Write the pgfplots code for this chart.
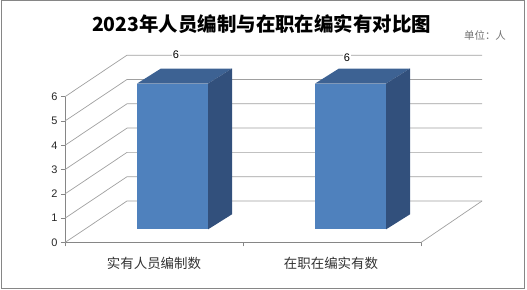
\documentclass[border=0pt]{standalone}
\usepackage{pgfplots}
\pgfplotsset{compat=1.18}
\usepackage{fontspec}
\setmainfont{Liberation Sans}
\newfontfamily\cjk{Noto Sans CJK SC}
\definecolor{barfront}{HTML}{4F81BD}
\definecolor{bartop}{HTML}{3D6293}
\definecolor{barside}{HTML}{32507C}
\definecolor{axisgray}{HTML}{868686}
\definecolor{gridgray}{HTML}{A0A0A0}
\begin{document}
\begin{tikzpicture}
\begin{axis}[
  x=1bp, y=24.3bp,
  xmin=65, xmax=421, ymin=0, ymax=6,
  enlargelimits=false,
  clip=false,
  axis x line=bottom, axis y line=left,
  axis line style={-, draw=axisgray, line width=0.7bp},
  xtick={65,243,421}, xticklabels={},
  ytick={0,1,...,6},
  tick align=outside,
  major tick length=4bp,
  tick style={draw=axisgray, line width=0.7bp},
  /pgf/number format/assume math mode=true,
  yticklabel style={font=\fontsize{11}{12}\selectfont, text=black!85},
]
% bounding area of the whole picture
\addplot[draw=none] coordinates {(0,-1.914) (527,9.979)};
% border
\addplot[draw=axisgray, line width=0.8bp] coordinates {(1.5,9.955) (524.5,9.955) (524.5,-1.872) (1.5,-1.872)} -- cycle;
% back wall grid lines and side wall diagonals
\addplot[draw=gridgray, line width=0.7bp] coordinates {(65,0) (127,1.708) (482,1.708)};
\addplot[draw=gridgray, line width=0.7bp] coordinates {(65,1) (127,2.708) (482,2.708)};
\addplot[draw=gridgray, line width=0.7bp] coordinates {(65,2) (127,3.708) (482,3.708)};
\addplot[draw=gridgray, line width=0.7bp] coordinates {(65,3) (127,4.708) (482,4.708)};
\addplot[draw=gridgray, line width=0.7bp] coordinates {(65,4) (127,5.708) (482,5.708)};
\addplot[draw=gridgray, line width=0.7bp] coordinates {(65,5) (127,6.708) (482,6.708)};
\addplot[draw=gridgray, line width=0.7bp] coordinates {(65,6) (127,7.708) (482,7.708)};
% floor right edge
\addplot[draw=gridgray, line width=0.7bp] coordinates {(421,0) (482,1.708)};
% bar 1 (value 6)
\addplot[fill=barfront, draw=none] coordinates {(137,0.54) (208,0.54) (208,6.54) (137,6.54)} -- cycle;
\addplot[fill=bartop, draw=none] coordinates {(137,6.54) (208,6.54) (232,7.16) (161,7.16)} -- cycle;
\addplot[fill=barside, draw=none] coordinates {(208,0.54) (232,1.16) (232,7.16) (208,6.54)} -- cycle;
% bar 2 (value 6)
\addplot[fill=barfront, draw=none] coordinates {(315,0.54) (386,0.54) (386,6.54) (315,6.54)} -- cycle;
\addplot[fill=bartop, draw=none] coordinates {(315,6.54) (386,6.54) (410,7.16) (339,7.16)} -- cycle;
\addplot[fill=barside, draw=none] coordinates {(386,0.54) (410,1.16) (410,7.16) (386,6.54)} -- cycle;
% data labels
\node[font=\fontsize{11}{12}\selectfont, fill=white, inner sep=0.5bp] at (axis cs:176,7.72) {6};
\node[font=\fontsize{11}{12}\selectfont, fill=white, inner sep=0.5bp] at (axis cs:347,7.61) {6};
% titles and labels
\node[font=\cjk\bfseries\fontsize{19.5}{21}\selectfont] at (axis cs:261.5,8.97) {2023年人员编制与在职在编实有对比图};
\node[font=\cjk\fontsize{10.5}{12}\selectfont, text=black!55] at (axis cs:485,8.50) {单位：人};
\node[font=\cjk\fontsize{13.5}{14}\selectfont, text=black!80] at (axis cs:154,-0.844) {实有人员编制数};
\node[font=\cjk\fontsize{13.5}{14}\selectfont, text=black!80] at (axis cs:331,-0.844) {在职在编实有数};
\end{axis}
\end{tikzpicture}
\end{document}
